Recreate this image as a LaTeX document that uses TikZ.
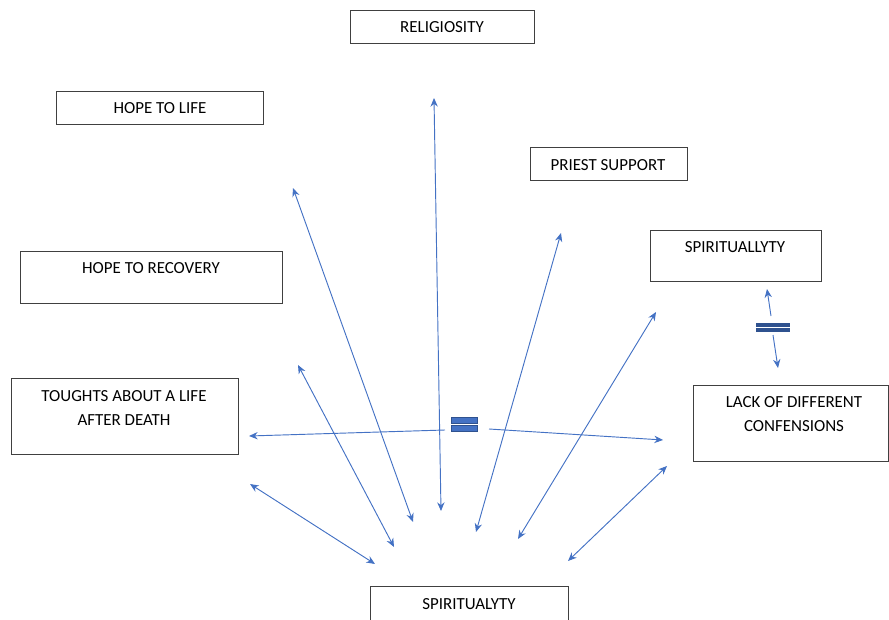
\documentclass[tikz,border=0pt]{standalone}
\usepackage{fontspec}
\setmainfont{Carlito}
\usetikzlibrary{positioning,arrows.meta,calc}
\definecolor{wblue}{HTML}{4472C4}
\definecolor{wdark}{HTML}{2F528F}
\tikzset{
  bx/.style={draw=black!75,line width=0.8pt,anchor=north west,inner sep=0pt},
  txt/.style={font=\fontsize{12.7}{18}\selectfont,inner sep=0pt,align=center},
  link/.style={{Stealth[length=6.5pt,width=5.5pt]}-{Stealth[length=6.5pt,width=5.5pt]},wblue,line width=0.7pt},
  half/.style={-{Stealth[length=6.5pt,width=5.5pt]},wblue,line width=0.7pt},
  eqbar/.style={fill=wblue,draw=wdark,line width=0.6pt,inner sep=0pt},
}
\begin{document}
\begin{tikzpicture}[x=0.75pt,y=-0.75pt]
  \useasboundingbox (0,0) rectangle (889,620);
  % boxes
  \node[bx,minimum width=138pt,minimum height=24.75pt] (relig) at (350,10) {};
  \node[txt] (relig-t) at (442,27) {RELIGIOSITY};
  \node[bx,minimum width=155.25pt,minimum height=24.75pt] (hlife) at (56,91) {};
  \node[txt] (hlife-t) at (160,108) {HOPE TO LIFE};
  \node[bx,minimum width=117.75pt,minimum height=24.75pt] (priest) at (530,147) {};
  \node[txt] (priest-t) at (608,165) {PRIEST SUPPORT};
  \node[bx,minimum width=128.25pt,minimum height=38.25pt] (spir) at (650,230) {};
  \node[txt] (spir-t) at (735,247) {SPIRITUALLYTY};
  \node[bx,minimum width=196.5pt,minimum height=39pt] (hrec) at (20,251) {};
  \node[txt] (hrec-t) at (151,268) {HOPE TO RECOVERY};
  \node[bx,minimum width=170.25pt,minimum height=57pt] (death) at (11,378) {};
  \node[txt,anchor=north] (death-t) at (124,390) {TOUGHTS ABOUT A LIFE\\AFTER DEATH};
  \node[bx,minimum width=146.25pt,minimum height=57pt] (lack) at (693,385) {};
  \node[txt,anchor=north] (lack-t) at (794,396) {LACK OF DIFFERENT\\CONFENSIONS};
  \node[bx,minimum width=148.5pt,minimum height=30pt] (spirb) at (370,586) {};
  \node[txt] (spirb-t) at (469,604) {SPIRITUALYTY};
  % equal signs
  \node[eqbar,minimum width=19.5pt,minimum height=4.5pt] (eqt) at (464,420) {};
  \node[eqbar,minimum width=19.5pt,minimum height=4.5pt] (eqb) at (464,428.5) {};
  \node[eqbar,fill=wdark,minimum width=24.75pt,minimum height=2.6pt] (seqt) at (772.5,324.7) {};
  \node[eqbar,fill=wdark,minimum width=24.75pt,minimum height=2.6pt] (seqb) at (772.5,329.8) {};
  % arrow ends
  \coordinate (hlife-a) at (293,188);   \coordinate (hlife-b) at (413,522);
  \coordinate (relig-a) at (434,98);    \coordinate (relig-b) at (441,511);
  \coordinate (priest-a) at (561,233);  \coordinate (priest-b) at (476,532);
  \coordinate (spir-a) at (656,312);    \coordinate (spir-b) at (518,539);
  \coordinate (lack-a) at (667,466);    \coordinate (lack-b) at (568,561);
  \coordinate (hrec-a) at (298,365);    \coordinate (hrec-b) at (394,547);
  \coordinate (death-a) at (250,484);   \coordinate (death-b) at (375,564);
  \coordinate (eq-l0) at (445,430);     \coordinate (eq-l1) at (249,436);
  \coordinate (eq-r0) at (489,429);     \coordinate (eq-r1) at (663,440);
  \coordinate (seq-u0) at (771,316);    \coordinate (seq-u1) at (767,289);
  \coordinate (seq-d0) at (773,335);    \coordinate (seq-d1) at (778,368);
  % connectors
  \draw[link] (hlife-a) -- (hlife-b);
  \draw[link] (relig-a) -- (relig-b);
  \draw[link] (priest-a) -- (priest-b);
  \draw[link] (spir-a) -- (spir-b);
  \draw[link] (lack-a) -- (lack-b);
  \draw[link] (hrec-a) -- (hrec-b);
  \draw[link] (death-a) -- (death-b);
  \draw[half] (eq-l0) -- (eq-l1);
  \draw[half] (eq-r0) -- (eq-r1);
  \draw[half] (seq-u0) -- (seq-u1);
  \draw[half] (seq-d0) -- (seq-d1);
\end{tikzpicture}
\end{document}
